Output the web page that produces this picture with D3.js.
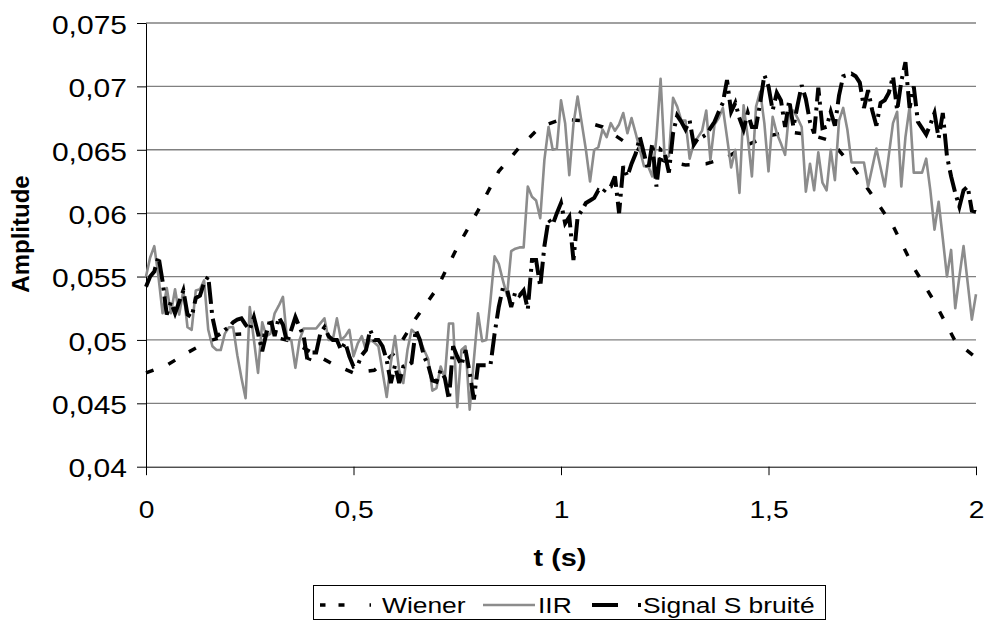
<!DOCTYPE html>
<html>
<head>
<meta charset="utf-8">
<script src="https://cdn.jsdelivr.net/npm/d3@7"></script>
<style>
  html, body { margin: 0; padding: 0; background: #fff; }
  text { font-family: "Liberation Sans", Arial, sans-serif; }
</style>
</head>
<body>
<svg id="svg" width="988" height="622"></svg>
<script>
// time grid of the noisy signals (one sample every 0.01 s)
var time = d3.range(0, 201).map(function (i) { return i / 100; });

var iirValues = [
  0.0550,0.0565,0.0574,0.0550,0.0521,0.0541,0.0521,0.0540,0.0520,0.0539,
  0.0510,0.0508,0.0539,0.0540,0.0547,0.0508,0.0495,0.0492,0.0492,0.0505,
  0.0510,0.0510,0.0488,0.0470,0.0454,0.0526,0.0500,0.0474,0.0514,0.0503,
  0.0505,0.0521,0.0527,0.0534,0.0500,0.0500,0.0478,0.0500,0.0509,0.0509,
  0.0509,0.0509,0.0513,0.0517,0.0500,0.0500,0.0517,0.0500,0.0503,0.0508,
  0.0487,0.0497,0.0503,0.0492,0.0500,0.0498,0.0495,0.0475,0.0455,0.0482,
  0.0503,0.0476,0.0466,0.0492,0.0508,0.0505,0.0500,0.0492,0.0485,0.0460,
  0.0462,0.0479,0.0470,0.0513,0.0513,0.0447,0.0492,0.0495,0.0445,0.0484,
  0.0521,0.0499,0.0500,0.0531,0.0566,0.0560,0.0547,0.0535,0.0570,0.0572,
  0.0573,0.0573,0.0621,0.0613,0.0610,0.0596,0.0642,0.0668,0.0650,0.0651,
  0.0689,0.0671,0.0630,0.0670,0.0692,0.0671,0.0650,0.0625,0.0650,0.0652,
  0.0666,0.0660,0.0671,0.0665,0.0670,0.0679,0.0663,0.0675,0.0663,0.0650,
  0.0637,0.0637,0.0629,0.0660,0.0706,0.0642,0.0645,0.0691,0.0684,0.0673,
  0.0673,0.0643,0.0655,0.0660,0.0665,0.0681,0.0642,0.0670,0.0675,0.0683,
  0.0660,0.0636,0.0650,0.0616,0.0685,0.0660,0.0629,0.0684,0.0696,0.0671,
  0.0633,0.0676,0.0663,0.0655,0.0646,0.0681,0.0681,0.0675,0.0668,0.0617,
  0.0639,0.0618,0.0648,0.0624,0.0618,0.0650,0.0626,0.0673,0.0683,0.0666,
  0.0640,0.0640,0.0640,0.0640,0.0621,0.0636,0.0651,0.0636,0.0621,0.0646,
  0.0671,0.0680,0.0621,0.0660,0.0684,0.0632,0.0632,0.0632,0.0643,0.0618,
  0.0587,0.0609,0.0580,0.0550,0.0571,0.0525,0.0550,0.0574,0.0545,0.0516,
  0.0536
];

var signalValues = [
  0.0542,0.0550,0.0554,0.0566,0.0546,0.0520,0.0530,0.0521,0.0530,0.0539,
  0.0520,0.0518,0.0533,0.0535,0.0545,0.0550,0.0518,0.0503,0.0505,0.0508,
  0.0510,0.0514,0.0516,0.0517,0.0512,0.0508,0.0518,0.0505,0.0491,0.0505,
  0.0517,0.0503,0.0518,0.0512,0.0498,0.0508,0.0518,0.0510,0.0503,0.0482,
  0.0490,0.0490,0.0505,0.0510,0.0503,0.0500,0.0500,0.0492,0.0498,0.0487,
  0.0479,0.0480,0.0488,0.0492,0.0508,0.0500,0.0500,0.0495,0.0484,0.0466,
  0.0480,0.0466,0.0479,0.0480,0.0482,0.0508,0.0500,0.0487,0.0480,0.0468,
  0.0467,0.0476,0.0470,0.0453,0.0495,0.0487,0.0480,0.0492,0.0474,0.0453,
  0.0480,0.0480,0.0480,0.0480,0.0505,0.0526,0.0541,0.0540,0.0526,0.0538,
  0.0535,0.0539,0.0524,0.0563,0.0563,0.0542,0.0574,0.0595,0.0591,0.0600,
  0.0608,0.0592,0.0597,0.0563,0.0597,0.0602,0.0608,0.0610,0.0612,0.0618,
  0.0616,0.0620,0.0621,0.0629,0.0600,0.0637,0.0629,0.0639,0.0647,0.0660,
  0.0647,0.0634,0.0655,0.0621,0.0650,0.0647,0.0632,0.0663,0.0677,0.0672,
  0.0666,0.0673,0.0654,0.0659,0.0660,0.0662,0.0667,0.0672,0.0680,0.0687,
  0.0705,0.0680,0.0687,0.0675,0.0666,0.0679,0.0668,0.0668,0.0687,0.0709,
  0.0700,0.0681,0.0695,0.0689,0.0668,0.0689,0.0668,0.0685,0.0701,0.0690,
  0.0672,0.0663,0.0699,0.0667,0.0668,0.0680,0.0669,0.0693,0.0708,0.0709,
  0.0710,0.0708,0.0703,0.0683,0.0697,0.0681,0.0669,0.0687,0.0689,0.0695,
  0.0708,0.0681,0.0704,0.0719,0.0683,0.0700,0.0672,0.0667,0.0662,0.0670,
  0.0679,0.0659,0.0679,0.0645,0.0629,0.0616,0.0605,0.0618,0.0621,0.0602,
  0.0601
];

// Wiener estimate is smooth, read every 0.05 s
var wienerTime = [0,0.05,0.1,0.15,0.2,0.25,0.3,0.35,0.4,0.45,0.5,0.55,0.6,0.65,0.7,0.75,0.8,0.85,0.9,0.95,
  1,1.05,1.1,1.15,1.2,1.25,1.3,1.35,1.4,1.45,1.5,1.55,1.6,1.65,1.7,1.75,1.8,1.85,1.9,1.95,2];
var wienerValues = [0.0474,0.0480,0.0490,0.0499,0.0504,0.0505,0.0503,0.0499,0.0490,0.0481,
  0.0474,0.0476,0.0490,0.0517,0.0540,0.0573,0.0602,0.0633,0.0652,0.0668,
  0.0674,0.0673,0.0668,0.0657,0.0648,0.0641,0.0638,0.0639,0.0644,0.0654,
  0.0661,0.0664,0.0662,0.0657,0.0638,0.0614,0.0590,0.0557,0.0530,0.0499,0.0486];

var xTicks = [0, 0.5, 1, 1.5, 2];
var xTickLabels = ["0", "0,5", "1", "1,5", "2"];
var yTicks = [0.04, 0.045, 0.05, 0.055, 0.06, 0.065, 0.07, 0.075];
var yTickLabels = ["0,04", "0,045", "0,05", "0,055", "0,06", "0,065", "0,07", "0,075"];

var seriesNames = ["Wiener", "IIR", "Signal S bruité"];

var svg = d3.select("#svg");
var area = { left: 146, right: 976, top: 23, bottom: 466.7 };

var xScale = d3.scaleLinear().domain([0, 2]).range([area.left, area.right]);
var yScale = d3.scaleLinear().domain([0.04, 0.075]).range([area.bottom, area.top]);

// horizontal grid
svg.append("g")
  .selectAll("line")
  .data(yTicks.slice(1))
  .enter()
  .append("line")
  .attr("x1", area.left)
  .attr("x2", area.right)
  .attr("y1", function (d) { return yScale(d); })
  .attr("y2", function (d) { return yScale(d); })
  .attr("stroke", "#808080")
  .attr("stroke-width", 1.3);

// y axis
var yAxis = svg.append("g")
  .attr("transform", "translate(" + area.left + ",0)")
  .call(d3.axisLeft(yScale).tickValues(yTicks).tickSize(9).tickSizeOuter(0)
    .tickFormat(function (d, i) { return yTickLabels[i]; }));
yAxis.select(".domain").attr("stroke", "#000");
yAxis.selectAll(".tick line").attr("stroke", "#000");
yAxis.selectAll(".tick text")
  .attr("x", 0).attr("dy", "0.41em")
  .attr("transform", "translate(-19,0) scale(1.2,1)")
  .attr("font-size", 25)
  .attr("font-family", "Liberation Sans, Arial, sans-serif")
  .attr("fill", "#000");

// x axis
var xAxis = svg.append("g")
  .attr("transform", "translate(0," + area.bottom + ")")
  .call(d3.axisBottom(xScale).tickValues(xTicks).tickSize(8.5).tickSizeOuter(0)
    .tickFormat(function (d, i) { return xTickLabels[i]; }));
xAxis.select(".domain").attr("stroke", "#000");
xAxis.selectAll(".tick line").attr("stroke", "#000");
xAxis.selectAll(".tick text")
  .attr("y", 0).attr("dy", 0)
  .attr("transform", "translate(0,51.5) scale(1.2,1)")
  .attr("font-size", 23.5)
  .attr("font-family", "Liberation Sans, Arial, sans-serif")
  .attr("fill", "#000");

// axis titles
svg.append("text")
  .attr("transform", "translate(28.5,234) rotate(-90)")
  .attr("text-anchor", "middle")
  .attr("font-size", 24)
  .attr("font-weight", "bold")
  .text("Amplitude");

svg.append("text")
  .attr("transform", "translate(560,566) scale(1.2,1)")
  .attr("text-anchor", "middle")
  .attr("font-size", 24)
  .attr("font-weight", "bold")
  .text("t (s)");

// lines
var line = d3.line()
  .x(function (d) { return xScale(d[0]); })
  .y(function (d) { return yScale(d[1]); });

var plot = svg.append("g");

plot.append("path")
  .datum(d3.zip(wienerTime, wienerValues))
  .attr("d", line)
  .attr("fill", "none")
  .attr("stroke", "#000")
  .attr("stroke-width", 3.5)
  .attr("stroke-dasharray", "8,16");

plot.append("path")
  .datum(d3.zip(time, iirValues))
  .attr("d", line)
  .attr("fill", "none")
  .attr("stroke", "#8c8c8c")
  .attr("stroke-width", 2.6)
  .attr("stroke-linejoin", "round");

plot.append("path")
  .datum(d3.zip(time, signalValues))
  .attr("d", line)
  .attr("fill", "none")
  .attr("stroke", "#000")
  .attr("stroke-width", 4)
  .attr("stroke-dasharray", "22,6,3,6");

// legend
var legend = svg.append("g");
legend.append("rect")
  .attr("x", 313.5).attr("y", 585.5)
  .attr("width", 512).attr("height", 34)
  .attr("fill", "#fff")
  .attr("stroke", "#000");

var legendItems = [
  { name: seriesNames[0], x1: 320, x2: 371, tx: 382, stroke: "#000", w: 3.5, dash: "5.5,13,6,25,1.5" },
  { name: seriesNames[1], x1: 483, x2: 535, tx: 538, stroke: "#8c8c8c", w: 2.6, dash: null },
  { name: seriesNames[2], x1: 592, x2: 641, tx: 643, stroke: "#000", w: 4, dash: "26,20,3,10" }
];

legendItems.forEach(function (d) {
  legend.append("line")
    .attr("x1", d.x1).attr("x2", d.x2)
    .attr("y1", 605).attr("y2", 605)
    .attr("stroke", d.stroke)
    .attr("stroke-width", d.w)
    .attr("stroke-dasharray", d.dash);
  legend.append("text")
    .attr("transform", "translate(" + d.tx + ",613) scale(1.2,1)")
    .attr("font-size", 22)
    .text(d.name);
});
</script>
</body>
</html>
